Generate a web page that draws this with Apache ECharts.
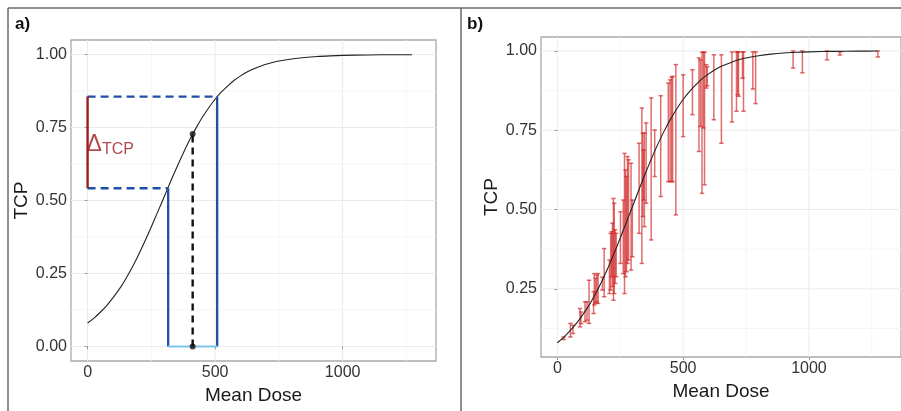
<!DOCTYPE html>
<html>
<head>
<meta charset="utf-8">
<script src="https://cdn.jsdelivr.net/npm/echarts@6/dist/echarts.min.js"></script>
<style>
html,body{margin:0;padding:0;background:#fff;}
#chart{width:901px;height:411px;}
</style>
</head>
<body>
<div id="chart"></div>
<script>
// ---- data ----
const curveDose = [0,25,50,75,100,125,150,175,200,225,250,275,300,325,350,375,400,425,450,475,500,525,550,575,600,625,650,675,700,725,750,800,850,900,950,1000,1100,1200,1272];
const curveTcp  = [0.080,0.097,0.117,0.140,0.167,0.197,0.232,0.271,0.314,0.361,0.410,0.461,0.512,0.564,0.614,0.662,0.707,0.748,0.785,0.818,0.847,0.872,0.893,0.912,0.927,0.940,0.951,0.959,0.967,0.973,0.978,0.985,0.990,0.9935,0.9957,0.9972,0.9988,0.9995,0.9997];

// panel a annotations
const lowDose = 316, lowTcp = 0.542;
const highDose = 508, highTcp = 0.856;
const midDose = 412, midTcp = 0.728;

// panel b error bars
const barDose = [25,52,62,90,94,110,118,126,144,147,152,157,162,179,186,207,212,216,219,223,226,230,234,251,262,267,271,275,279,283,293,298,325,336,340,343,346,353,373,387,411,441,448,454,458,471,500,537,563,569,575,581,585,592,596,622,652,694,712,717,720,736,740,777,788,937,974,1072,1123,1274];
const barLow  = [0.090,0.098,0.109,0.130,0.140,0.146,0.151,0.141,0.172,0.199,0.204,0.209,0.204,0.246,0.225,0.235,0.246,0.288,0.257,0.214,0.235,0.267,0.288,0.330,0.298,0.235,0.288,0.304,0.330,0.341,0.309,0.351,0.425,0.330,0.478,0.530,0.446,0.520,0.404,0.604,0.541,0.588,0.588,0.588,0.588,0.483,0.730,0.799,0.683,0.762,0.551,0.757,0.578,0.883,0.890,0.783,0.709,0.776,0.810,0.862,0.857,0.914,0.810,0.880,0.834,0.946,0.931,0.972,0.987,0.981];
const barHigh = [0.098,0.141,0.135,0.188,0.177,0.209,0.209,0.277,0.241,0.298,0.283,0.293,0.298,0.287,0.377,0.341,0.425,0.430,0.457,0.535,0.520,0.436,0.425,0.493,0.530,0.677,0.625,0.604,0.667,0.657,0.646,0.530,0.709,0.820,0.741,0.688,0.741,0.773,0.852,0.751,0.859,0.899,0.909,0.917,0.920,0.957,0.925,0.941,0.978,0.972,0.996,0.996,0.996,0.957,0.950,0.988,0.988,0.997,0.997,0.997,0.997,0.997,0.997,0.997,0.997,1.000,1.000,1.000,0.997,1.000];

// ticks
const xTicks = [0,500,1000];
const xMinor = [250,750,1250];
const yTicksA = [0,0.25,0.5,0.75,1];
const yMinorA = [0.125,0.375,0.625,0.875];
const yTicksB = [0.25,0.5,0.75,1];
const yMinorB = [0.125,0.375,0.625,0.875];
const panelLabels = ['a)','b)'];
const xTitle = 'Mean Dose';
const yTitle = 'TCP';

// ---- build ----
const FONT = "'Liberation Sans', Arial, sans-serif";
const chart = echarts.init(document.getElementById('chart'), null, {renderer:'canvas'});

function zip(a,b){ return a.map((v,i)=>[v,b[i]]); }

function gridData(xs, xm, ys, ym){
  const d = [];
  xm.forEach(v=>d.push([v,0,0]));
  ym.forEach(v=>d.push([v,1,0]));
  xs.forEach(v=>d.push([v,0,1]));
  ys.forEach(v=>d.push([v,1,1]));
  return d;
}
function gridRender(params, api){
  const cs = params.coordSys;
  const v = api.value(0), horiz = api.value(1), major = api.value(2);
  const style = {stroke: major ? '#ebebeb' : '#f4f4f4', lineWidth: major ? 1 : 0.8};
  if (horiz){
    const p = api.coord([0, v]);
    return {type:'line', shape:{x1:cs.x, y1:p[1], x2:cs.x+cs.width, y2:p[1]}, style};
  } else {
    const p = api.coord([v, 0.5]);
    return {type:'line', shape:{x1:p[0], y1:cs.y, x2:p[0], y2:cs.y+cs.height}, style};
  }
}

const labelStyle = {color:'#333', fontSize:16, fontFamily:FONT, margin:4};
const tick = {show:true, length:3, lineStyle:{color:'#9a9a9a'}};

function xAxisFor(gi){
  return {
    type:'value', gridIndex:gi, min:-65, max:1366,
    axisLine:{show:false},
    axisTick:Object.assign({customValues:xTicks}, tick),
    axisLabel:Object.assign({customValues:xTicks, formatter:v=>String(v)}, labelStyle),
    splitLine:{show:false},
    name:xTitle, nameLocation:'middle', nameGap:21,
    nameTextStyle:{color:'#1a1a1a', fontSize:19, fontFamily:FONT}
  };
}
function yAxisFor(gi, min, max, ticks){
  return {
    type:'value', gridIndex:gi, min:min, max:max,
    axisLine:{show:false},
    axisTick:Object.assign({customValues:ticks}, tick),
    axisLabel:Object.assign({customValues:ticks, formatter:v=>v.toFixed(2)}, labelStyle),
    splitLine:{show:false},
    name:yTitle, nameLocation:'middle', nameGap:40,
    nameTextStyle:{color:'#1a1a1a', fontSize:19, fontFamily:FONT}
  };
}

const blue = '#1f4fa6';
const segA = (pts, color, type, width)=>({
  type:'line', xAxisIndex:0, yAxisIndex:0, data:pts, symbol:'none', silent:true,
  lineStyle:{color:color, width:width, type:type}, z:4
});

const option = {
  animation:false,
  backgroundColor:'#ffffff',
  grid:[
    {left:71, top:40, width:365, height:321, show:true, borderColor:'#a9a9a9', borderWidth:1.3, backgroundColor:'transparent'},
    {left:541, top:37, width:364, height:320, show:true, borderColor:'#a9a9a9', borderWidth:1.3, backgroundColor:'transparent'}
  ],
  xAxis:[xAxisFor(0), xAxisFor(1)],
  yAxis:[yAxisFor(0,-0.05,1.05,yTicksA), yAxisFor(1,0.035,1.044,yTicksB)],
  graphic:[
    {type:'line', shape:{x1:8,y1:8,x2:901,y2:8}, style:{stroke:'#6a6a6a', lineWidth:1.5}},
    {type:'line', shape:{x1:8,y1:8,x2:8,y2:411}, style:{stroke:'#6a6a6a', lineWidth:1.5}},
    {type:'line', shape:{x1:461,y1:8,x2:461,y2:411}, style:{stroke:'#6a6a6a', lineWidth:1.5}},
    {type:'text', left:15, top:16, style:{text:panelLabels[0], font:"bold 17px "+FONT, fill:'#111'}},
    {type:'text', left:467, top:16, style:{text:panelLabels[1], font:"bold 17px "+FONT, fill:'#111'}}
  ],
  series:[
    // grid lines
    {type:'custom', xAxisIndex:0, yAxisIndex:0, renderItem:gridRender, silent:true, z:0,
      data:gridData(xTicks,xMinor,yTicksA,yMinorA)},
    {type:'custom', xAxisIndex:1, yAxisIndex:1, renderItem:gridRender, silent:true, z:0,
      data:gridData(xTicks,xMinor,yTicksB,yMinorB)},
    // panel a curve
    {type:'line', xAxisIndex:0, yAxisIndex:0, data:zip(curveDose,curveTcp), symbol:'none', smooth:0.3,
      lineStyle:{color:'#222', width:1.1}, z:3, silent:true},
    // annotations
    segA([[0,lowTcp],[lowDose,lowTcp]], blue, [8,5], 2.3),
    segA([[0,highTcp],[highDose,highTcp]], blue, [8,5], 2.3),
    segA([[lowDose,0],[lowDose,lowTcp]], blue, 'solid', 2.3),
    segA([[highDose,0],[highDose,highTcp]], blue, 'solid', 2.3),
    segA([[lowDose,0],[highDose,0]], '#7cc4ec', 'solid', 2),
    segA([[midDose,0],[midDose,midTcp]], '#111', [7,5], 2.4),
    segA([[0,lowTcp],[0,highTcp]], '#9c1c1c', 'solid', 2.4),
    {type:'scatter', xAxisIndex:0, yAxisIndex:0, data:[[midDose,0],[midDose,midTcp]], symbolSize:6,
      itemStyle:{color:'#111'}, z:6, silent:true},
    {type:'scatter', xAxisIndex:0, yAxisIndex:0, data:[[0,(lowTcp+highTcp)/2]], symbolSize:0, silent:true, z:6,
      label:{show:true, position:'right', distance:-1, offset:[0,2],
        formatter:'{d|Δ}{s|TCP}',
        rich:{
          d:{fontSize:23, color:'#9c1c1c', fontFamily:FONT, verticalAlign:'bottom', lineHeight:24},
          s:{fontSize:16, color:'#9c1c1c', fontFamily:FONT, verticalAlign:'bottom', lineHeight:24, padding:[0,0,-1,0]}
        }}},
    // panel b error bars
    {type:'custom', xAxisIndex:1, yAxisIndex:1, silent:true, z:3,
      data:barDose.map((d,i)=>[d,barLow[i],barHigh[i]]),
      encode:{x:0, y:[1,2]},
      renderItem:function(params, api){
        const x = api.value(0), lo = api.value(1), hi = api.value(2);
        const p1 = api.coord([x,lo]), p2 = api.coord([x,hi]);
        const st = {stroke:'rgba(208,32,32,0.65)', lineWidth:1.5};
        const c = 2.2;
        return {type:'group', children:[
          {type:'line', shape:{x1:p1[0],y1:p1[1],x2:p2[0],y2:p2[1]}, style:st},
          {type:'line', shape:{x1:p1[0]-c,y1:p1[1],x2:p1[0]+c,y2:p1[1]}, style:st},
          {type:'line', shape:{x1:p2[0]-c,y1:p2[1],x2:p2[0]+c,y2:p2[1]}, style:st}
        ]};
      }},
    // panel b curve
    {type:'line', xAxisIndex:1, yAxisIndex:1, data:zip(curveDose,curveTcp), symbol:'none', smooth:0.3,
      lineStyle:{color:'#222', width:1.1}, z:5, silent:true}
  ]
};
chart.setOption(option);
</script>
</body>
</html>
